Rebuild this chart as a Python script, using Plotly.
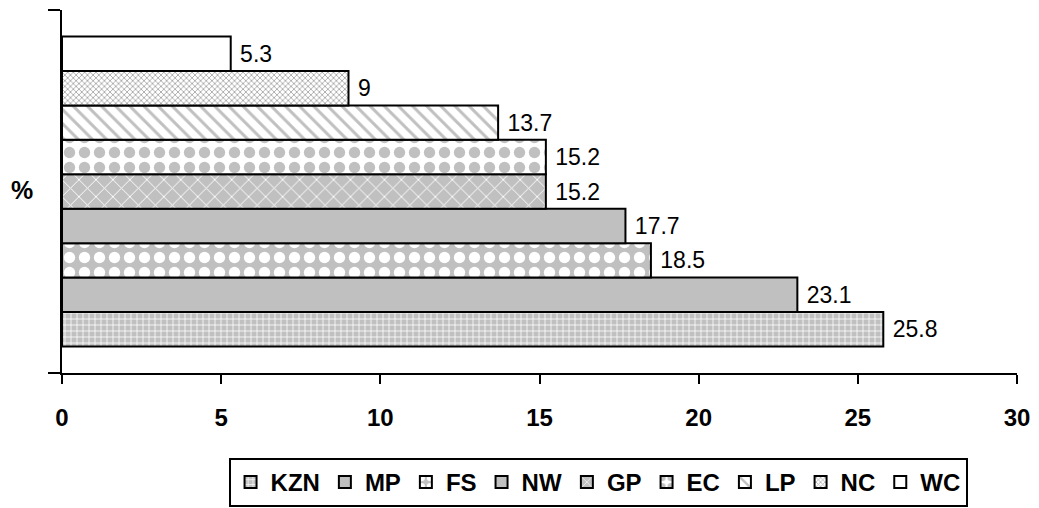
import plotly.graph_objects as go

category = ["Province"]
provinces = ["KZN", "MP", "FS", "NW", "GP", "EC", "LP", "NC", "WC"]
values = [25.8, 23.1, 18.5, 17.7, 15.2, 15.2, 13.7, 9, 5.3]
x_ticks = [0, 5, 10, 15, 20, 25, 30]

GRAY = "#c0c0c0"
patterns = {
    "KZN": dict(shape="+", bgcolor=GRAY, fgcolor="white", size=6, solidity=0.25, fillmode="replace"),
    "MP": None,
    "FS": dict(shape=".", bgcolor=GRAY, fgcolor="white", size=15, solidity=0.45, fillmode="replace"),
    "NW": None,
    "GP": dict(shape="x", bgcolor=GRAY, fgcolor="white", size=12, solidity=0.15, fillmode="replace"),
    "EC": dict(shape=".", bgcolor="white", fgcolor=GRAY, size=15, solidity=0.45, fillmode="replace"),
    "LP": dict(shape="\\", bgcolor="white", fgcolor=GRAY, size=10, solidity=0.3, fillmode="replace"),
    "NC": dict(shape="x", bgcolor="white", fgcolor="#a8a8a8", size=4, solidity=0.4, fillmode="replace"),
    "WC": None,
}
colors = {"KZN": GRAY, "MP": GRAY, "FS": GRAY, "NW": GRAY, "GP": GRAY,
          "EC": "white", "LP": "white", "NC": "white", "WC": "white"}

FONT = "Liberation Sans, Arial, sans-serif"

fig = go.Figure()
for p, v in zip(provinces, values):
    marker = dict(color=colors[p], line=dict(color="black", width=2))
    if patterns[p] is not None:
        marker["pattern"] = patterns[p]
    fig.add_trace(go.Bar(
        y=category, x=[v], name=p, orientation="h",
        marker=marker,
        texttemplate="\u00a0%{x}", textposition="outside", constraintext="none",
        textfont=dict(family=FONT, size=23, color="black"),
        cliponaxis=False,
    ))

fig.update_layout(
    width=1039, height=508,
    margin=dict(l=62, r=22, t=10, b=135, autoexpand=False),
    paper_bgcolor="white", plot_bgcolor="white",
    barmode="group", bargap=0.146, bargroupgap=0,
    showlegend=True,
    legend=dict(
        orientation="h", x=0.5756, xanchor="center", y=0.0984, yanchor="top",
        xref="container", yref="container",
        bordercolor="black", borderwidth=2, bgcolor="white",
        font=dict(family=FONT, size=24, color="black", weight="bold"),
        itemwidth=30, tracegroupgap=0,
    ),
    xaxis=dict(
        range=[0, 30], tickvals=x_ticks, ticktext=[str(v) for v in x_ticks],
        ticks="outside", ticklen=9, tickwidth=2, tickcolor="black",
        showline=True, linewidth=2, linecolor="black",
        showgrid=False, zeroline=False,
        tickfont=dict(family=FONT, size=24, color="black", weight="bold"),
        ticklabelstandoff=13,
    ),
    yaxis=dict(
        type="category", range=[-0.5, 0.5],
        showticklabels=False, tickson="boundaries",
        ticks="outside", ticklen=12, tickwidth=2, tickcolor="black",
        showline=True, linewidth=2, linecolor="black",
        showgrid=False, zeroline=False,
    ),
    annotations=[dict(
        text="%", xref="paper", yref="paper", x=-0.042, y=0.504,
        xanchor="center", yanchor="middle", showarrow=False,
        font=dict(family=FONT, size=25, color="black", weight="bold"),
    )],
)

fig.write_html("out.html", config={"displayModeBar": False},
               post_script="document.body.style.margin='0';")
